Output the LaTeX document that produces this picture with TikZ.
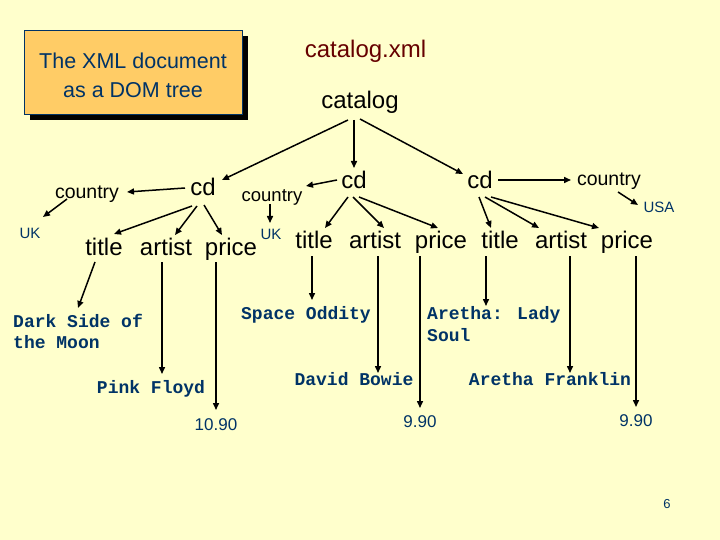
\documentclass[tikz,border=0pt]{standalone}
\usepackage{fontspec}
\setmainfont{Liberation Sans}
\newfontfamily\monof{Liberation Mono}
\usetikzlibrary{arrows.meta}
\definecolor{bgyellow}{RGB}{255,255,204}
\definecolor{boxorange}{RGB}{255,204,102}
\definecolor{valblue}{RGB}{0,51,102}
\definecolor{darkred}{RGB}{102,0,0}
\tikzset{
  el/.style={inner sep=0pt, anchor=base, font=\fontsize{24}{26}\selectfont},
  ctry/.style={inner sep=0pt, anchor=base, font=\fontsize{19.5}{21}\selectfont},
  val/.style={inner sep=0pt, anchor=base, text=valblue, font=\fontsize{15}{17}\selectfont},
  num/.style={inner sep=0pt, anchor=base, text=valblue, font=\fontsize{17}{19}\selectfont},
  mono/.style={inner sep=0pt, anchor=base, text=valblue, font=\monof\bfseries\fontsize{18}{21.5}\selectfont},
  arr/.style={-{Triangle[length=7pt,width=6pt]}, line width=1.5pt},
}
\begin{document}
\begin{tikzpicture}[x=1pt,y=-1pt]
\fill[bgyellow] (0,0) rectangle (720,540);
\useasboundingbox (0,0) rectangle (720,540);
% title box
\fill[black] (30,36) rectangle (248,120);
\filldraw[fill=boxorange, draw=valblue, line width=0.8pt] (24,30) rectangle (242,114);
\node[inner sep=0pt, text=valblue, align=center, font=\fontsize{21.5}{29}\selectfont] (ttl) at (133,75) {The XML document\\as a DOM tree};
% root label
\node[inner sep=0pt, anchor=base, text=darkred, font=\fontsize{24}{26}\selectfont] (file) at (365.5,58) {catalog.xml};
% element nodes
\node[el] (cat) at (360,109) {catalog};
\node[el] (cd1) at (203,196) {cd};
\node[el] (cd2) at (354,189) {cd};
\node[el] (cd3) at (480,189) {cd};
\node[ctry] (c1) at (87,199) {country};
\node[ctry, font=\fontsize{18.5}{20}\selectfont] (c2) at (272,202) {country};
\node[ctry] (c3) at (609,186) {country};
\node[val] (uk1) at (30,239) {UK};
\node[val] (uk2) at (271,240) {UK};
\node[val] (usa) at (659,213) {USA};
\node[el] (t1) at (104,255) {title};
\node[el] (a1) at (166,255) {artist};
\node[el] (p1) at (231,255) {price};
\node[el] (t2) at (314,248) {title};
\node[el] (a2) at (375,248) {artist};
\node[el] (p2) at (441,248) {price};
\node[el] (t3) at (500,248) {title};
\node[el] (a3) at (561,248) {artist};
\node[el] (p3) at (627,248) {price};
% leaf text
\node[mono, anchor=base west] (v11) at (13,327) {Dark Side of};
\node[mono, anchor=base west] (v11b) at (13,348) {the Moon};
\node[mono] (v12) at (151,393) {Pink Floyd};
\node[num] (v13) at (216,430) {10.90};
\node[mono] (v21) at (306,319) {Space Oddity};
\node[mono] (v22) at (354,385) {David Bowie};
\node[num] (v23) at (420,427) {9.90};
\node[mono, anchor=base west] (v31) at (427,319) {Aretha: Lady};
\node[mono, anchor=base west] (v31b) at (427,341) {Soul};
\node[mono] (v32) at (550,385) {Aretha Franklin};
\node[num] (v33) at (636,426) {9.90};
\node[inner sep=0pt, text=valblue, font=\fontsize{13}{15}\selectfont] (pg) at (667,504) {6};
% connector coordinates
\coordinate (catL) at (348,120);
\coordinate (catM) at (354,120);
\coordinate (catR) at (360,119);
% catalog -> cds
\draw[arr] (catL) -- (222,180);
\draw[arr] (catM) -- (354,168);
\draw[arr] (catR) -- (463,174);
% cd1
\draw[arr] (185,188) -- (127,192);
\draw[arr] (67,199) -- (43,217);
\draw[arr] (192,206) -- (114,234);
\draw[arr] (197,206) -- (175,235);
\draw[arr] (204,205) -- (222,235);
% cd2
\draw[arr] (337,180) -- (306,186);
\draw[arr] (270,204) -- (270,223);
\draw[arr] (348,197) -- (325,228);
\draw[arr] (353,197) -- (384,228);
\draw[arr] (359,197) -- (438,228);
% cd3
\draw[arr] (498,180) -- (571,180);
\draw[arr] (618,192) -- (638,205);
\draw[arr] (479,197) -- (491,228);
\draw[arr] (485,197) -- (539,228);
\draw[arr] (491,197) -- (599,228);
% values
\draw[arr] (95,262) -- (78,308);
\draw[arr] (162,262) -- (162,374);
\draw[arr] (216,262) -- (216,410);
\draw[arr] (312,256) -- (312,300);
\draw[arr] (378,256) -- (378,373);
\draw[arr] (420,256) -- (420,408);
\draw[arr] (486,256) -- (486,306);
\draw[arr] (570,256) -- (570,373);
\draw[arr] (636,256) -- (636,407);
\end{tikzpicture}
\end{document}
